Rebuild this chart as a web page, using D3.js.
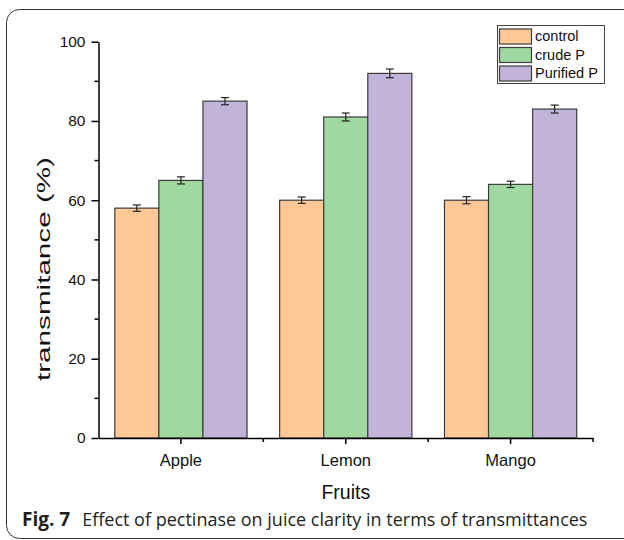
<!DOCTYPE html>
<html><head><meta charset="utf-8">
<script src="https://cdn.jsdelivr.net/npm/d3@7"></script>
<style>body{margin:0;background:#fff}</style>
</head><body>
<svg id="c" width="624" height="540"></svg>
<script>
const categories = ["Apple", "Lemon", "Mango"];
const seriesNames = ["control", "crude P", "Purified P"];
const controlVals = [58, 60, 60];
const crudeVals = [65, 81, 64];
const purifiedVals = [85, 92, 83];
const controlErr = [0.8, 0.8, 0.9];
const crudeErr = [0.9, 1.0, 0.8];
const purifiedErr = [0.9, 1.1, 1.0];
const yTicks = [0, 20, 40, 60, 80, 100];
const yMinorTicks = [10, 30, 50, 70, 90];
const colors = ["#FFC896", "#A0D9A0", "#C2B3D8"];

(function(){
const FONT = "'Liberation Sans', Arial, Helvetica, sans-serif";
const series = [
  {name: seriesNames[0], vals: controlVals, err: controlErr},
  {name: seriesNames[1], vals: crudeVals, err: crudeErr},
  {name: seriesNames[2], vals: purifiedVals, err: purifiedErr}
];

const svg = d3.select("#c");
svg.append("rect").attr("x",6.5).attr("y",9.5).attr("width",650).attr("height",529)
  .attr("rx",13).attr("fill","none").attr("stroke","#333").attr("stroke-width",1);

const pl = 98.5, pr = 593, pt = 41.7, pb = 438;
const x = d3.scaleBand().domain(categories).range([pl, pr]).paddingInner(0).paddingOuter(0);
const xs = d3.scaleBand().domain(seriesNames).range([0, x.bandwidth()]).paddingOuter(0.37).paddingInner(0);
const y = d3.scaleLinear().domain([0, 100]).range([pb, pt]);

const g = svg.append("g");
series.forEach((s, si) => {
  categories.forEach((c, ci) => {
    const bx = x(c) + xs(s.name);
    g.append("rect").attr("x", bx).attr("y", y(s.vals[ci]))
      .attr("width", xs.bandwidth()).attr("height", y(0) - y(s.vals[ci]))
      .attr("fill", colors[si]).attr("stroke", "#3c3c3c").attr("stroke-width", 1.2);
    const cx = bx + xs.bandwidth()/2;
    const y1 = y(s.vals[ci] + s.err[ci]), y2 = y(s.vals[ci] - s.err[ci]);
    g.append("line").attr("x1",cx).attr("x2",cx).attr("y1",y1).attr("y2",y2).attr("stroke","#222").attr("stroke-width",1.2);
    [y1,y2].forEach(yy => g.append("line").attr("x1",cx-4).attr("x2",cx+4).attr("y1",yy).attr("y2",yy).attr("stroke","#222").attr("stroke-width",1.2));
  });
});

const ya = svg.append("g").attr("transform",`translate(${pl},0)`)
  .call(d3.axisLeft(y).tickValues(yTicks).tickSize(7).tickPadding(6).tickSizeOuter(0));
ya.select(".domain").attr("stroke","#000").attr("stroke-width",1.5);
ya.selectAll(".tick line").attr("stroke","#000").attr("stroke-width",1.5);
ya.selectAll(".tick text").attr("font-family",FONT).attr("font-size",15.5).attr("fill","#111");
ya.selectAll(".minor").data(yMinorTicks).enter().append("line")
  .attr("x1",-4).attr("x2",0).attr("y1",d=>y(d)).attr("y2",d=>y(d)).attr("stroke","#000").attr("stroke-width",1.5);

const xa = svg.append("g").attr("transform",`translate(0,${pb})`)
  .call(d3.axisBottom(x).tickSize(6).tickPadding(10).tickSizeOuter(0));
xa.select(".domain").attr("stroke","#000").attr("stroke-width",1.5);
xa.selectAll(".tick line").attr("stroke","#000").attr("stroke-width",1.5);
xa.selectAll(".tick text").attr("font-family",FONT).attr("font-size",16.5).attr("fill","#111");
xa.selectAll(".minor").data(categories.slice(1)).enter().append("line")
  .attr("x1",d=>x(d)).attr("x2",d=>x(d)).attr("y1",0).attr("y2",4).attr("stroke","#000").attr("stroke-width",1.5);
xa.append("line").attr("x1",pr).attr("x2",pr).attr("y1",0).attr("y2",4).attr("stroke","#000").attr("stroke-width",1.5);

svg.append("text").attr("transform",`translate(50,269) rotate(-90)`)
  .attr("text-anchor","middle").attr("font-family",FONT).attr("font-size",18.5).attr("fill","#111")
  .attr("textLength",224).attr("lengthAdjust","spacingAndGlyphs")
  .text("transmitance (%)");
svg.append("text").attr("x",(pl+pr)/2).attr("y",499).attr("text-anchor","middle")
  .attr("font-family",FONT).attr("font-size",19.5).attr("fill","#111").text("Fruits");

const lg = svg.append("g").attr("transform","translate(497,25)");
lg.append("rect").attr("x",0.5).attr("y",0.5).attr("width",107).attr("height",58).attr("fill","#fff").attr("stroke","#444").attr("stroke-width",1);
series.forEach((s,i) => {
  lg.append("rect").attr("x",2.5).attr("y",4+i*18.5).attr("width",32).attr("height",15)
    .attr("fill",colors[i]).attr("stroke","#3c3c3c").attr("stroke-width",1.2);
  lg.append("text").attr("x",38).attr("y",16+i*18.5).attr("font-family",FONT)
    .attr("font-size",14.5).attr("fill","#111").text(s.name);
});

const cap = svg.append("text").attr("x",22).attr("y",526).attr("font-family","'Open Sans', 'Noto Sans', sans-serif").attr("font-size",18).attr("fill","#231f20");
cap.append("tspan").attr("font-weight","bold").attr("font-size",19).text("Fig. 7");
cap.append("tspan").attr("dx",12).text("Effect of pectinase on juice clarity in terms of transmittances");
})();
</script>
</body></html>
